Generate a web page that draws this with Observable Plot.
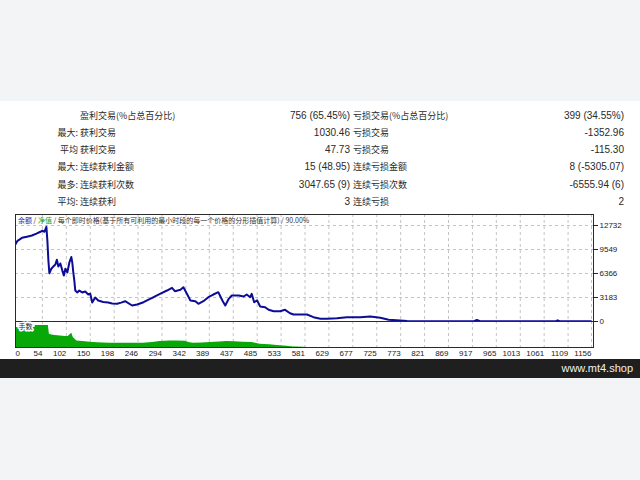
<!DOCTYPE html>
<html>
<head>
<meta charset="utf-8">
<script src="https://cdn.jsdelivr.net/npm/d3@7"></script>
<script src="https://cdn.jsdelivr.net/npm/@observablehq/plot@0.6"></script>
<style>
  html, body { margin: 0; padding: 0; }
  #page { position: relative; width: 640px; height: 480px; background: #f3f4f6; overflow: hidden;
          font-family: "Liberation Sans", "Noto Sans CJK SC", sans-serif; color: #2a2a2a; }
  #white { position: absolute; left: 0; top: 101px; width: 640px; height: 258px; background: #ffffff; }
  #bar { position: absolute; left: 0; top: 359px; width: 640px; height: 19px; background: #1f1f1f; }
  #bar span { position: absolute; right: 7px; top: 2px; font-size: 11px; line-height: 15px; color: #f0f0f0; }
  .cell { position: absolute; white-space: nowrap; line-height: 14px; }
  .num { font-size: 10px; }
  .cjk { font-size: 9px; font-family: "Noto Sans CJK SC", sans-serif; }
  #hdr { position: absolute; left: 18px; top: 215px; font-size: 7px; line-height: 10px; white-space: nowrap;
         font-family: "Noto Sans CJK SC", sans-serif; color: #333; }
  .plot { position: absolute; left: 0; }
</style>
</head>
<body>
<div id="page">
  <div id="white"></div>
  <div id="bar"><span>www.mt4.shop</span></div>
  <div id="stats"></div>
  <div id="main" class="plot" style="top:210px"></div>
  <div id="vol" class="plot" style="top:321px"></div>
  <div id="hdr"></div>
</div>
<script>
// ---- Statistics table ----
const rowPrefix = ["", "最大:", "平均", "最大:", "最多:", "平均:"];
const rowLabel1 = ["盈利交易(%占总百分比)", "获利交易", "获利交易", "连续获利金额", "连续获利次数", "连续获利"];
const rowValue1 = ["756 (65.45%)", "1030.46", "47.73", "15 (48.95)", "3047.65 (9)", "3"];
const rowLabel2 = ["亏损交易(%占总百分比)", "亏损交易", "亏损交易", "连续亏损金额", "连续亏损次数", "连续亏损"];
const rowValue2 = ["399 (34.55%)", "-1352.96", "-115.30", "8 (-5305.07)", "-6555.94 (6)", "2"];

// ---- Chart header ----
const headerParts = ["余额", " / ", "净值", " / 每个即时价格(基于所有可利用的最小时段的每一个价格的分形插值计算) / 90.00%"];

// ---- Axes ----
const xTicks = [0, 54, 102, 150, 198, 246, 294, 342, 389, 437, 485, 533, 581, 629, 677, 725, 773, 821, 869, 917, 965, 1013, 1061, 1109, 1156];
const yTicks = [0, 3183, 6366, 9549, 12732];

// ---- Balance curve (trade number, balance) ----
const balanceTrade = [0, 4, 13, 23, 33, 42, 50, 54, 58, 62, 64, 66, 68, 72, 76, 80, 83, 86, 90, 94, 97, 100, 104, 108, 112, 114, 116, 118, 120, 124, 128, 134, 140, 146, 150, 154, 160, 166, 176, 186, 194, 204, 212, 220, 234, 244, 257, 270, 277, 290, 304, 314, 320, 331, 337, 344, 351, 361, 367, 377, 387, 397, 407, 412, 416, 421, 428, 434, 448, 458, 464, 471, 474, 479, 485, 491, 501, 508, 518, 531, 541, 551, 558, 585, 598, 612, 625, 645, 665, 692, 712, 732, 749, 772, 786, 812, 920, 926, 932, 1085, 1088, 1092, 1155];
const balanceValue = [10250, 10700, 11100, 11250, 11400, 11650, 11900, 12050, 11900, 12550, 10700, 8100, 6400, 7000, 7300, 7550, 8200, 7300, 7700, 6750, 6100, 7000, 6500, 7800, 8550, 7800, 6500, 5450, 4100, 3850, 4100, 3850, 3980, 3580, 3700, 2520, 3180, 2790, 2590, 2520, 2400, 2350, 2500, 2690, 2120, 2250, 2560, 3010, 3220, 3670, 4110, 4470, 4020, 4200, 4550, 3670, 2790, 2690, 2350, 2690, 3220, 3580, 3890, 3220, 2690, 2120, 3010, 3450, 3450, 3320, 3580, 3220, 3670, 2560, 2790, 1990, 1900, 1550, 1370, 1370, 1550, 1100, 930, 930, 570, 360, 360, 440, 570, 570, 660, 490, 230, 130, 60, 40, 40, 200, 40, 40, 150, 40, 40];

// ---- Lot size per trade ----
const lotTrade = [0, 39, 40, 66, 68, 73, 80, 90, 100, 106, 110, 113, 116, 123, 135, 150, 156, 175, 190, 220, 256, 275, 290, 310, 324, 340, 350, 357, 375, 391, 410, 424, 440, 457, 475, 491, 510, 525, 545, 558, 563, 580, 585];
const lotValue = [2.0, 2.0, 2.2, 2.2, 1.33, 1.26, 1.2, 1.15, 1.1, 1.1, 1.3, 1.43, 1.0, 0.66, 0.6, 0.52, 0.5, 0.45, 0.43, 0.42, 0.43, 0.5, 0.6, 0.64, 0.66, 0.62, 0.48, 0.43, 0.45, 0.5, 0.55, 0.6, 0.58, 0.53, 0.5, 0.33, 0.28, 0.2, 0.12, 0.06, 0.04, 0.02, 0];

// Build the stats rows
const stats = document.getElementById("stats");
const rowTops = [109, 126, 143, 160, 177.5, 195];
function cell(text, cls, styleStr) {
  const d = document.createElement("div");
  d.className = "cell " + cls;
  d.setAttribute("style", styleStr);
  d.textContent = text;
  stats.appendChild(d);
}
rowPrefix.forEach((p, i) => {
  const t = rowTops[i];
  if (p) cell(p, "cjk", `right:${640 - 78}px;top:${t}px`);
  cell(rowLabel1[i], "cjk", `left:80px;top:${t}px`);
  cell(rowValue1[i], "num", `right:${640 - 350}px;top:${t}px`);
  cell(rowLabel2[i], "cjk", `left:353px;top:${t}px`);
  cell(rowValue2[i], "num", `right:${640 - 624}px;top:${t}px`);
});

// Header
const hdr = document.getElementById("hdr");
const hdrColors = ["#1c1ca8", "#333", "#12a012", "#333"];
headerParts.forEach((s, i) => {
  const sp = document.createElement("span");
  sp.textContent = s;
  sp.style.color = hdrColors[i];
  hdr.appendChild(sp);
});

const balance = balanceTrade.map((t, i) => ({t, v: balanceValue[i]}));
const lots = lotTrade.map((t, i) => ({t, v: lotValue[i]}));
const xDomain = [0, 1160];
const plain = d => String(d);
const gridStyle = {stroke: "#c4c4c4", strokeDasharray: "3,3", strokeWidth: 1};
const baseStyle = {background: "transparent", fontFamily: "'Liberation Sans', sans-serif", fontSize: "8px", color: "#222", overflow: "visible"};

const main = Plot.plot({
  width: 640, height: 113,
  marginTop: 4, marginBottom: 2, marginLeft: 15, marginRight: 47,
  x: {domain: xDomain, axis: null},
  y: {domain: [0, 14190], axis: null},
  style: baseStyle,
  marks: [
    Plot.ruleX(xTicks.slice(1), gridStyle),
    Plot.ruleY(yTicks.slice(1), gridStyle),
    Plot.line(balance, {x: "t", y: "v", stroke: "#0c0c96", strokeWidth: 2, clip: true}),
    Plot.frame({stroke: "#2a2a2a"}),
    Plot.axisY(yTicks, {anchor: "right", tickSize: 4, tickPadding: 2, label: null, tickFormat: plain, stroke: "#222", fill: "#222"})
  ]
});
document.getElementById("main").appendChild(main);

const vol = Plot.plot({
  width: 640, height: 40,
  marginTop: 0, marginBottom: 14, marginLeft: 15, marginRight: 47,
  x: {domain: xDomain, axis: null},
  y: {domain: [0, 2.6], axis: null},
  style: baseStyle,
  marks: [
    Plot.ruleX(xTicks.slice(1), gridStyle),
    Plot.areaY(lots, {x: "t", y: "v", fill: "#08a808"}),
    Plot.frame({stroke: "#2a2a2a"}),
    Plot.axisX([xTicks[0]], {tickSize: 0, tickPadding: 3, textAnchor: "start", label: null, tickFormat: plain, fill: "#222"}),
    Plot.axisX(xTicks.slice(1), {tickSize: 0, tickPadding: 3, textAnchor: "end", label: null, tickFormat: plain, fill: "#222"}),
    Plot.text(["手数"], {frameAnchor: "top-left", dx: 3, dy: 3, fontSize: 7, fill: "#222",
      stroke: "white", strokeWidth: 3, fontFamily: "'Noto Sans CJK SC', sans-serif"})
  ]
});
document.getElementById("vol").appendChild(vol);
</script>
</body>
</html>
